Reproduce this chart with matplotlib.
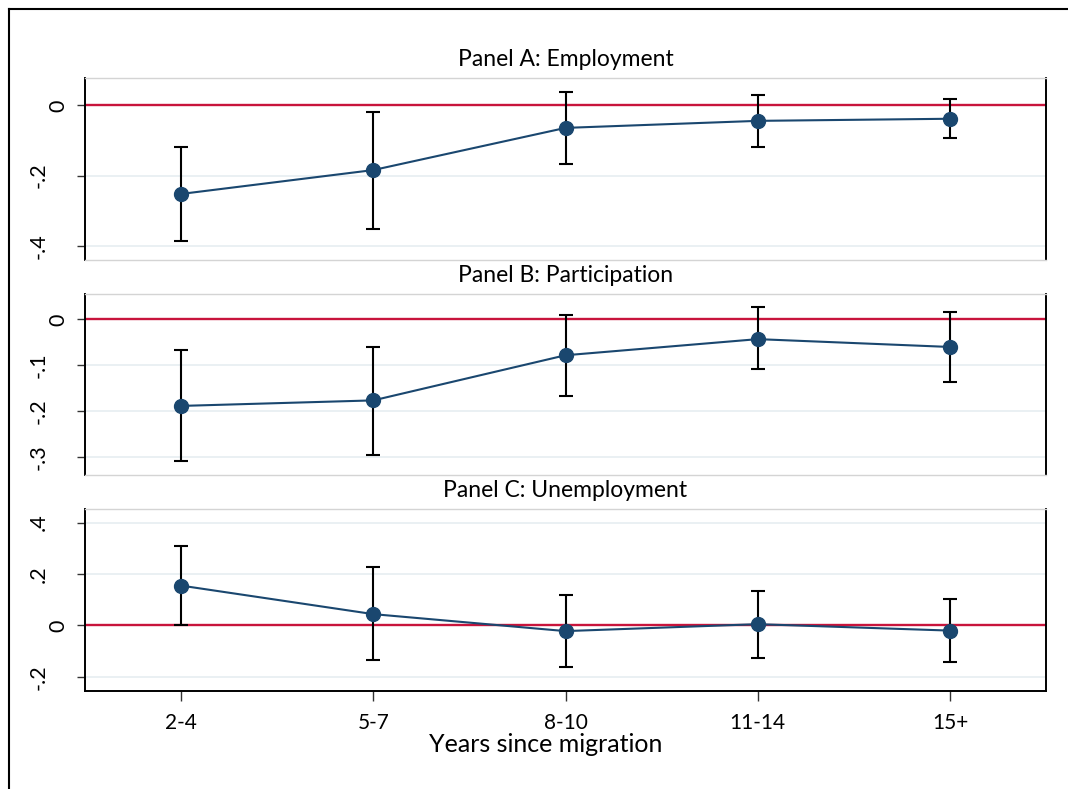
import matplotlib
matplotlib.use('Agg')
import matplotlib.pyplot as plt
from matplotlib.transforms import ScaledTranslation
from matplotlib.lines import Line2D

# ---------------- data ----------------
categories = ['2-4', '5-7', '8-10', '11-14', '15+']

emp_coef = [-0.252, -0.184, -0.064, -0.044, -0.038]
emp_lo = [-0.386, -0.351, -0.166, -0.119, -0.093]
emp_hi = [-0.119, -0.019, 0.039, 0.031, 0.017]

part_coef = [-0.188, -0.176, -0.078, -0.043, -0.060]
part_lo = [-0.308, -0.294, -0.166, -0.108, -0.136]
part_hi = [-0.066, -0.060, 0.010, 0.026, 0.017]

unemp_coef = [0.155, 0.044, -0.022, 0.005, -0.020]
unemp_lo = [0.000, -0.135, -0.161, -0.125, -0.142]
unemp_hi = [0.310, 0.226, 0.117, 0.133, 0.104]

panel_titles = ['Panel A: Employment', 'Panel B: Participation', 'Panel C: Unemployment']
ytick_vals = [[0, -0.2, -0.4], [0, -0.1, -0.2, -0.3], [0.4, 0.2, 0, -0.2]]
ytick_labels = [['0', '-.2', '-.4'], ['0', '-.1', '-.2', '-.3'], ['.4', '.2', '0', '-.2']]
ylims = [(-0.44, 0.078), (-0.338, 0.055), (-0.255, 0.453)]
x_label = 'Years since migration'

series = [(emp_coef, emp_lo, emp_hi), (part_coef, part_lo, part_hi), (unemp_coef, unemp_lo, unemp_hi)]

# ---------------- style ----------------
plt.rcParams['font.family'] = ['Lato', 'DejaVu Sans']
W, H = 1068, 789
fig = plt.figure(figsize=(W / 100, H / 100), dpi=100)
fig.patch.set_facecolor('white')

navy = '#1a476f'
red = '#c8143c'
grid_col = '#e8eff2'
edge_col = '#d4d4d4'

left_px, right_px = 85, 1046
panels_px = [(78, 260), (294, 475), (509, 691)]
title_y_px = [59, 275, 491]

x = list(range(1, len(categories) + 1))

for i, ((top, bot), (coef, lo, hi)) in enumerate(zip(panels_px, series)):
    ax = fig.add_axes([left_px / W, 1 - bot / H, (right_px - left_px) / W, (bot - top) / H])
    ax.set_xlim(0.5, len(categories) + 0.5)
    ax.set_ylim(*ylims[i])

    for yv in ytick_vals[i]:
        ax.axhline(yv, color=grid_col, lw=1.3, zorder=0)
    ax.axhline(0, color=red, lw=1.7, zorder=1)

    yerr = [[c - l for c, l in zip(coef, lo)], [h - c for c, h in zip(coef, hi)]]
    ax.errorbar(x, coef, yerr=yerr, fmt='none', ecolor='black', elinewidth=1.5,
                capsize=5, capthick=1.5, zorder=2)
    ax.plot(x, coef, color=navy, lw=1.5, marker='o', markersize=10,
            markerfacecolor=navy, markeredgecolor=navy, zorder=3)

    ax.set_yticks(ytick_vals[i])
    ax.set_yticklabels(ytick_labels[i])
    ax.tick_params(axis='y', length=6, width=1, color='#333333', pad=20,
                   labelsize=15.5, labelrotation=90)
    for lab in ax.get_yticklabels():
        lab.set_va('center')
        if lab.get_text() == '0':
            lab.set_transform(lab.get_transform() + ScaledTranslation(19 / 100, 0, fig.dpi_scale_trans))

    for s in ['left', 'right']:
        ax.spines[s].set_color('black')
        ax.spines[s].set_linewidth(1.4)
    ax.spines['top'].set_color(edge_col)
    ax.spines['top'].set_linewidth(1.0)

    if i < 2:
        ax.spines['bottom'].set_color(edge_col)
        ax.spines['bottom'].set_linewidth(1.0)
        ax.set_xticks([])
    else:
        ax.spines['bottom'].set_color('black')
        ax.spines['bottom'].set_linewidth(1.4)
        ax.set_xticks(x)
        ax.set_xticklabels(categories)
        ax.tick_params(axis='x', length=7, width=1, color='#333333', pad=9, labelsize=15)

    fig.text((left_px + right_px) / 2 / W, 1 - title_y_px[i] / H, panel_titles[i],
             ha='center', va='center', fontsize=16.5)

fig.text(546 / W, 1 - 744 / H, x_label, ha='center', va='center', fontsize=18)

# outer frame (left and top edges visible)
fig.add_artist(Line2D([9 / W, 9 / W], [0, 1 - 9 / H], color='black', lw=1.5, transform=fig.transFigure))
fig.add_artist(Line2D([9 / W, 1], [1 - 9 / H, 1 - 9 / H], color='black', lw=1.5, transform=fig.transFigure))

fig.savefig('out.png', dpi=100, facecolor='white')
